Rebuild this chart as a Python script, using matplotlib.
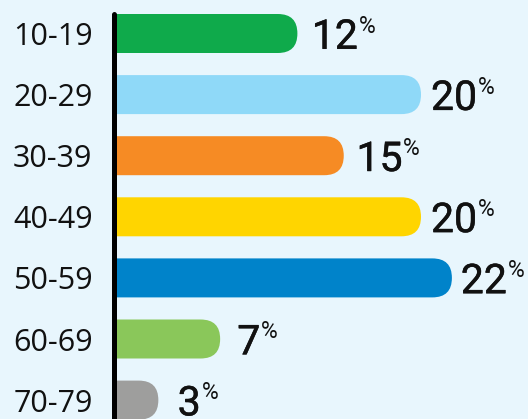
import matplotlib
matplotlib.use("Agg")
import matplotlib.pyplot as plt
import matplotlib.patheffects as pe
from matplotlib.patches import FancyBboxPatch

ages = ["10-19", "20-29", "30-39", "40-49", "50-59", "60-69", "70-79"]
shares = [12, 20, 15, 20, 22, 7, 3]
colors = ["#0FAA4B", "#8FD9F8", "#F68B24", "#FFD500", "#0083CA", "#8AC75A", "#9E9E9D"]

bg = "#E8F6FD"
px_x = 15.45   # pixels per percent
px_y = 61.1    # pixels per category

fig = plt.figure(figsize=(5.28, 4.19), dpi=100, facecolor=bg)
ax = fig.add_axes([112 / 528, 0, 416 / 528, 1])
ax.set_facecolor(bg)
ax.set_xlim(0, 416 / px_x)
ax.set_ylim((419 - 33.5) / px_y, -33.5 / px_y)

h = 39 / px_y
r = 19.5 / px_x
for i, (v, c) in enumerate(zip(shares, colors)):
    box = FancyBboxPatch((-3, i - h / 2), v + 3, h,
                         boxstyle=f"round,pad=0,rounding_size={r}",
                         mutation_aspect=px_x / px_y,
                         facecolor=c, edgecolor="none")
    ax.add_patch(box)

# axis line
sx = 1.5 / px_x
ax.plot([sx, sx], [-19 / px_y, 8], color="black", lw=3.6,
        solid_capstyle="round", clip_on=False, zorder=5)

for s in ax.spines.values():
    s.set_visible(False)
ax.set_xticks([])
ax.set_yticks(range(len(ages)))
ax.set_yticklabels(ages, fontfamily="Open Sans", fontsize=22, color="#111111")
for lab in ax.get_yticklabels():
    lab.set_verticalalignment("center_baseline")
ax.tick_params(axis="y", length=0, pad=14)

fig.canvas.draw()
renderer = fig.canvas.get_renderer()
heavy = [pe.withStroke(linewidth=0.35, foreground="#111111")]
for i, v in enumerate(shares):
    lx = (21 + 14.9 * v) / px_x
    t = ax.annotate(str(v), (lx, i), xytext=(0, -11), textcoords="offset points",
                    ha="left", va="baseline", fontfamily="Roboto",
                    fontsize=29.5, color="#111111", path_effects=heavy)
    bb = t.get_window_extent(renderer)
    xd, _ = ax.transData.inverted().transform((bb.x1, 0))
    ax.annotate("%", (xd, i), xytext=(0.5, 0.5), textcoords="offset points",
                ha="left", va="baseline", fontfamily="Roboto",
                fontsize=16.5, color="#111111")

fig.savefig("out.png", dpi=100, facecolor=bg)
